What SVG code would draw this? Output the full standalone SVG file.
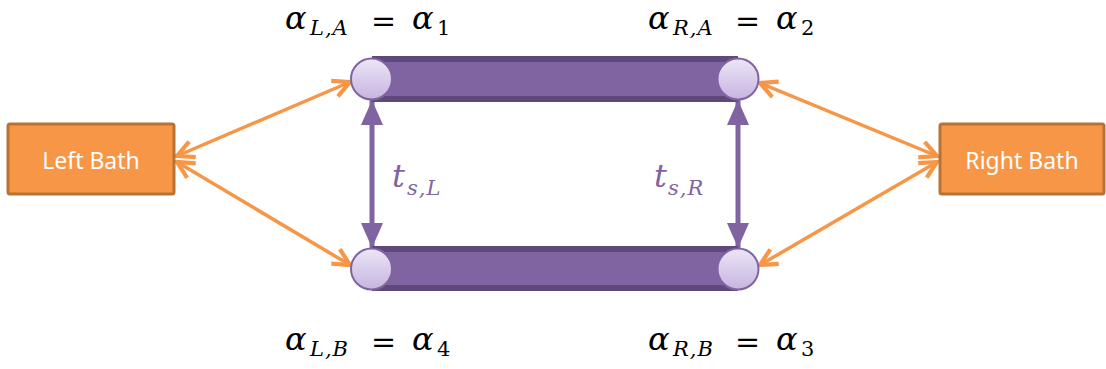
<svg xmlns="http://www.w3.org/2000/svg" width="1106" height="369" viewBox="0 0 1106 369">
<style>
.bath{fill:#F79646;stroke:#B87333;stroke-width:3}
.bt{font-family:"Noto Sans","Open Sans",sans-serif;font-size:23px;fill:#FFFFFF;text-anchor:middle}
.m{font-family:"DejaVu Serif","Liberation Serif",serif;font-style:italic;font-size:32px;fill:#000}
.ms{font-family:"DejaVu Serif","Liberation Serif",serif;font-style:italic;font-size:21px;letter-spacing:1px;fill:#000}
.mu{font-family:"DejaVu Serif","Liberation Serif",serif;font-size:30px;fill:#000}
.mn{font-family:"DejaVu Serif","Liberation Serif",serif;font-size:21px;fill:#000}
.tp{fill:#8064A2}
.or{stroke:#F79646;stroke-width:3.5;fill:none;marker-start:url(#oa);marker-end:url(#oa)}
.pu{stroke:#8064A2;stroke-width:5;fill:none;marker-start:url(#pa);marker-end:url(#pa)}
.tube{fill:#8064A2}
.band{fill:#5F497A}
.end{fill:url(#cg);stroke:#8064A2;stroke-width:2}
</style>
<defs>
<linearGradient id="cg" x1="0" y1="0" x2="0" y2="1">
<stop offset="0" stop-color="#ECE6F6"/>
<stop offset="1" stop-color="#C7B4E0"/>
</linearGradient>
<marker id="oa" viewBox="0 0 10 10" refX="9" refY="5" markerWidth="6" markerHeight="6" orient="auto-start-reverse" markerUnits="strokeWidth">
<path d="M1,1 L9,5 L1,9" fill="none" stroke="#F79646" stroke-width="2"/>
</marker>
<marker id="pa" viewBox="0 0 10 10" refX="10" refY="5" markerWidth="5" markerHeight="4.4" orient="auto-start-reverse" markerUnits="strokeWidth" preserveAspectRatio="none">
<path d="M0,0 L10,5 L0,10 Z" fill="#8064A2"/>
</marker>
</defs>

<g id="connectors">
<line class="or" x1="177" y1="156" x2="350" y2="82"/>
<line class="or" x1="177" y1="162" x2="350" y2="265"/>
<line class="or" x1="937" y1="156" x2="760" y2="83"/>
<line class="or" x1="937" y1="162" x2="760" y2="265"/>
<line class="pu" x1="372" y1="100" x2="372" y2="248"/>
<line class="pu" x1="738" y1="100" x2="738" y2="248"/>
</g>

<g id="left-bath">
<rect class="bath" x="8" y="124" width="166" height="70" rx="2"/>
<text class="bt" x="91" y="169">Left Bath</text>
</g>
<g id="right-bath">
<rect class="bath" x="940" y="124" width="164" height="70" rx="2"/>
<text class="bt" x="1022" y="169">Right Bath</text>
</g>

<g id="wire-A">
<rect class="band" x="372" y="56" width="366" height="46"/>
<rect class="tube" x="372" y="62" width="366" height="34"/>
<circle class="end" cx="371.5" cy="79" r="20.5"/>
<circle class="end" cx="738" cy="79" r="20.5"/>
</g>
<g id="wire-B">
<rect class="band" x="372" y="246" width="366" height="45"/>
<rect class="tube" x="372" y="252" width="366" height="33"/>
<circle class="end" cx="371.5" cy="269" r="20.5"/>
<circle class="end" cx="738" cy="269" r="20.5"/>
</g>

<g id="label-LA">
<text class="m" x="285" y="29">α</text>
<text class="ms" x="310" y="35">L,A</text>
<text class="mu" x="371" y="31">=</text>
<text class="m" x="412" y="29">α</text>
<text class="mn" x="437" y="35">1</text>
</g>
<g id="label-RA">
<text class="m" x="648" y="29">α</text>
<text class="ms" x="673" y="35">R,A</text>
<text class="mu" x="735" y="31">=</text>
<text class="m" x="776" y="29">α</text>
<text class="mn" x="801" y="35">2</text>
</g>
<g id="label-LB">
<text class="m" x="285" y="350">α</text>
<text class="ms" x="310" y="356">L,B</text>
<text class="mu" x="371" y="352">=</text>
<text class="m" x="412" y="350">α</text>
<text class="mn" x="437" y="356">4</text>
</g>
<g id="label-RB">
<text class="m" x="648" y="350">α</text>
<text class="ms" x="673" y="356">R,B</text>
<text class="mu" x="735" y="352">=</text>
<text class="m" x="776" y="350">α</text>
<text class="mn" x="801" y="356">3</text>
</g>
<g id="label-tL">
<text class="m tp" x="392" y="187" font-size="33">t</text>
<text class="ms tp" x="407" y="195">s,L</text>
</g>
<g id="label-tR">
<text class="m tp" x="654" y="187" font-size="33">t</text>
<text class="ms tp" x="668" y="195">s,R</text>
</g>
</svg>
